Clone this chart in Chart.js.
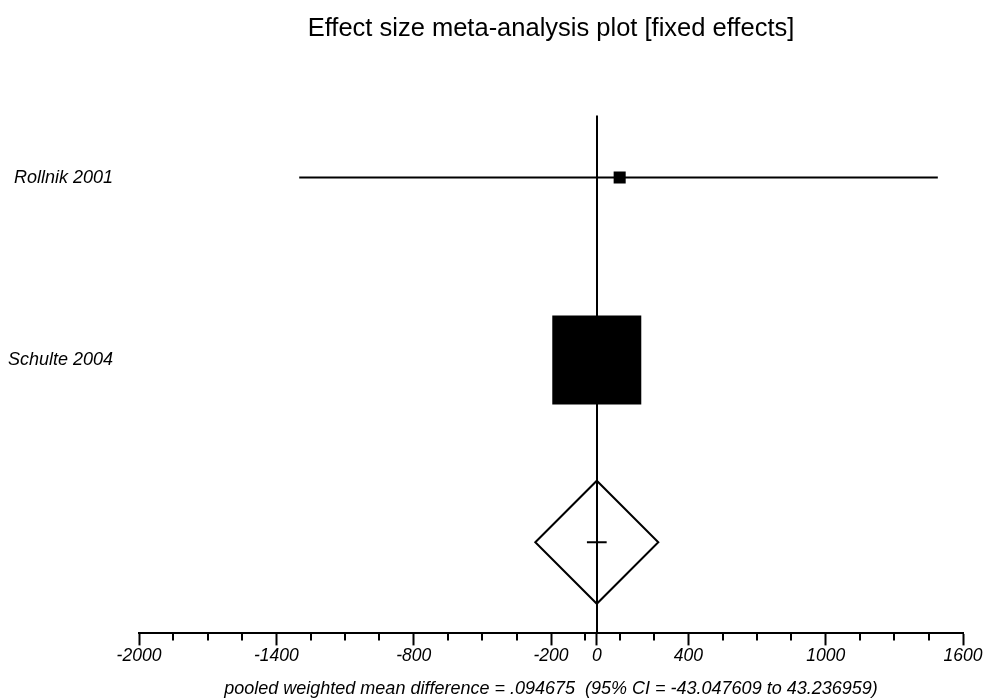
<!DOCTYPE html>
<html><head><meta charset="utf-8">
<script src="https://cdn.jsdelivr.net/npm/chart.js@4"></script>
<style>html,body{margin:0;padding:0;background:#fff}</style>
</head><body>
<canvas id="c" width="986" height="700"></canvas>
<script>
// ---- data ----
const studies = ['Rollnik 2001', 'Schulte 2004'];
const effects = [100, 0];
const ciLower = [-1300, -43.2];
const ciUpper = [1490, 43.4];
const weights = [1.8, 98.2];
const pooled = 0.094675;
const pooledLower = -43.047609;
const pooledUpper = 43.236959;
const majorTicks = [-2000, -1400, -800, -200, 0, 400, 1000, 1600];
const minorTicks = [-1850, -1700, -1550, -1250, -1100, -950, -650, -500, -350, -50, 100, 250, 550, 700, 850, 1150, 1300, 1450];
const chartTitle = 'Effect size meta-analysis plot [fixed effects]';
const xTitle = 'pooled weighted mean difference = .094675  (95% CI = -43.047609 to 43.236959)';

// ---- style ----
const FONT = "'Liberation Sans', Arial, sans-serif";
const maxSide = 89;
const maxW = Math.max(...weights);
const squareRadius = weights.map(w => maxSide * Math.sqrt(w / maxW) / Math.SQRT2);
const pooledRow = studies.length + 1;

const ciDatasets = studies.map((s, i) => ({
  label: s + ' CI',
  data: [{x: ciLower[i], y: i + 1}, {x: ciUpper[i], y: i + 1}],
  showLine: true, borderColor: '#000', borderWidth: 2, pointRadius: 0
}));

const refLine = {
  id: 'refLine',
  beforeDatasetsDraw(chart) {
    const {ctx, chartArea, scales} = chart;
    const px = Math.round(scales.x.getPixelForValue(0));
    ctx.save();
    ctx.strokeStyle = '#000'; ctx.lineWidth = 2;
    ctx.beginPath(); ctx.moveTo(px, chartArea.top); ctx.lineTo(px, chartArea.bottom); ctx.stroke();
    ctx.restore();
  },
  afterDraw(chart) {
    const {ctx, chartArea, scales} = chart;
    ctx.save();
    ctx.strokeStyle = '#000'; ctx.lineWidth = 2;
    ctx.beginPath();
    minorTicks.forEach(v => {
      const px = Math.round(scales.x.getPixelForValue(v));
      ctx.moveTo(px, chartArea.bottom); ctx.lineTo(px, chartArea.bottom + 7);
    });
    ctx.stroke();
    ctx.restore();
  }
};

new Chart(document.getElementById('c'), {
  type: 'scatter',
  data: {
    datasets: [
      ...ciDatasets,
      {
        label: 'Studies',
        data: studies.map((s, i) => ({x: effects[i], y: i + 1})),
        pointStyle: 'rect', pointRadius: squareRadius, pointHoverRadius: squareRadius,
        backgroundColor: '#000', borderColor: '#000', borderWidth: 0
      },
      {
        label: 'Pooled CI',
        data: [{x: pooledLower, y: pooledRow}, {x: pooledUpper, y: pooledRow}],
        showLine: true, borderColor: '#000', borderWidth: 2, pointRadius: 0
      },
      {
        label: 'Pooled',
        data: [{x: pooled, y: pooledRow}],
        pointStyle: 'rectRot', pointRadius: 61.5, pointHoverRadius: 61.5,
        backgroundColor: 'rgba(0,0,0,0)', borderColor: '#000', borderWidth: 2
      }
    ]
  },
  options: {
    responsive: false,
    animation: false,
    devicePixelRatio: 1,
    layout: {autoPadding: false, padding: {left: 0, right: 23, top: 0, bottom: 0}},
    plugins: {
      legend: {display: false},
      tooltip: {enabled: false},
      title: {
        display: true, text: chartTitle, color: '#000', fullSize: false,
        font: {family: FONT, size: 25.5, weight: 'normal'},
        padding: {top: 14, bottom: 71}
      }
    },
    scales: {
      x: {
        type: 'linear', position: 'bottom', min: -2000, max: 1600,
        afterBuildTicks: s => { s.ticks = majorTicks.map(v => ({value: v})); },
        afterFit: s => { s.paddingLeft = 0; s.paddingRight = 0; },
        ticks: {
          color: '#000', padding: 0, maxRotation: 0, autoSkip: false,
          font: {family: FONT, size: 17.5, style: 'italic'},
          callback: v => String(v)
        },
        grid: {display: true, drawOnChartArea: false, drawTicks: true, tickLength: 12, tickWidth: 2, tickColor: '#000'},
        border: {display: true, color: '#000', width: 2},
        title: {
          display: true, text: xTitle, color: '#000',
          font: {family: FONT, size: 18, style: 'italic'},
          padding: {top: 12, bottom: 0}
        }
      },
      y: {
        type: 'linear', reverse: true, min: 0.66, max: 3.5,
        afterBuildTicks: s => { s.ticks = studies.map((_, i) => ({value: i + 1})); },
        afterFit: s => { s.width = 139; },
        ticks: {
          color: '#000', padding: 26, autoSkip: false,
          font: {family: FONT, size: 18, style: 'italic'},
          callback: (v, i) => studies[i]
        },
        grid: {display: false, drawTicks: false},
        border: {display: false}
      }
    }
  },
  plugins: [refLine]
});
</script>
</body></html>
